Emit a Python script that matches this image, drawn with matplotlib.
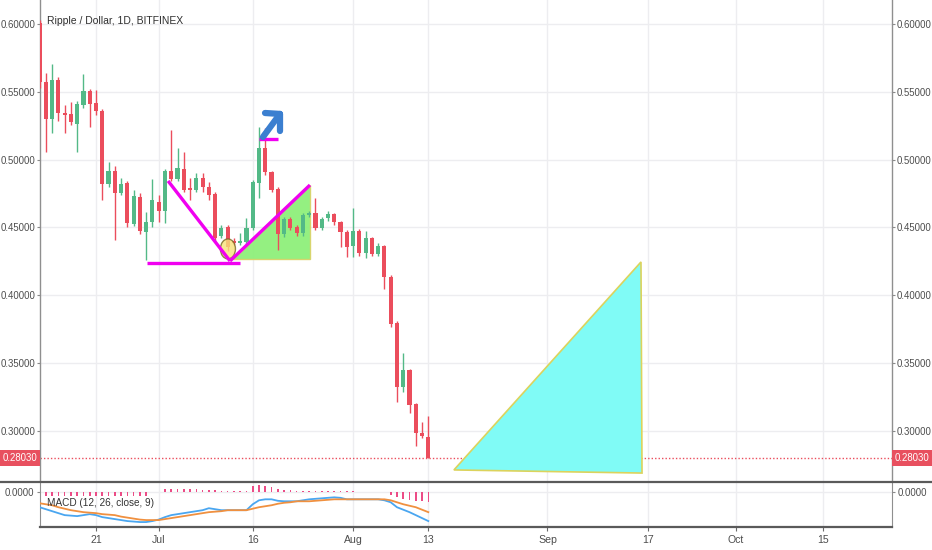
import matplotlib
matplotlib.use('Agg')
import matplotlib.pyplot as plt
import matplotlib.dates as mdates
from matplotlib.patches import Polygon, Ellipse
from matplotlib.lines import Line2D
import numpy as np
import pandas as pd

plt.rcParams['font.family'] = ['Liberation Sans', 'DejaVu Sans']

# ---------------- data ----------------
dates = pd.date_range('2018-06-12', '2018-08-13', freq='D')
opens = [0.601, 0.5575, 0.530, 0.5587, 0.5344, 0.534, 0.5263, 0.540, 0.5506, 0.5417,
         0.5358, 0.482, 0.4916, 0.4754, 0.4828, 0.4526, 0.4725, 0.4467, 0.454, 0.4688,
         0.4621, 0.4916, 0.4857, 0.4931, 0.4791, 0.4776, 0.4865, 0.4798, 0.4747, 0.4437,
         0.4503, 0.440, 0.4386, 0.4393, 0.4496, 0.4828, 0.5086, 0.4909, 0.4783, 0.4452,
         0.4562, 0.4503, 0.4459, 0.4592, 0.4607, 0.4496, 0.457, 0.4599, 0.454, 0.4467,
         0.4363, 0.4474, 0.4312, 0.4422, 0.4304, 0.4363, 0.4135, 0.3796, 0.3324, 0.345,
         0.3199, 0.2985, 0.2956]
highs = [0.603, 0.564, 0.5705, 0.561, 0.540, 0.5425, 0.543, 0.563, 0.552, 0.5513,
         0.537, 0.4982, 0.495, 0.4865, 0.484, 0.4776, 0.4754, 0.4614, 0.486, 0.4739,
         0.493, 0.5218, 0.5086, 0.5056, 0.4865, 0.4901, 0.4901, 0.4835, 0.476, 0.4518,
         0.452, 0.442, 0.446, 0.457, 0.485, 0.524, 0.5233, 0.492, 0.480, 0.458,
         0.458, 0.452, 0.461, 0.462, 0.4717, 0.458, 0.462, 0.461, 0.455, 0.448,
         0.4643, 0.449, 0.4474, 0.443, 0.4386, 0.437, 0.415, 0.381, 0.3575, 0.346,
         0.321, 0.3066, 0.311]
lows = [0.553, 0.506, 0.520, 0.5285, 0.520, 0.5255, 0.5056, 0.538, 0.524, 0.533,
        0.470, 0.480, 0.4408, 0.474, 0.4503, 0.451, 0.445, 0.426, 0.4503, 0.454,
        0.4533, 0.484, 0.484, 0.476, 0.4703, 0.476, 0.4761, 0.4703, 0.4393, 0.442,
        0.433, 0.437, 0.437, 0.438, 0.448, 0.4717, 0.489, 0.476, 0.4334, 0.443,
        0.448, 0.444, 0.444, 0.458, 0.448, 0.448, 0.455, 0.452, 0.4356, 0.4282,
        0.4282, 0.429, 0.4275, 0.429, 0.429, 0.4047, 0.3766, 0.3214, 0.3287, 0.3133,
        0.2889, 0.295, 0.280]
closes = [0.557, 0.530, 0.5587, 0.5344, 0.5329, 0.5277, 0.541, 0.5506, 0.541, 0.5358,
          0.482, 0.4916, 0.4754, 0.482, 0.4533, 0.4732, 0.4474, 0.454, 0.4703, 0.4621,
          0.4916, 0.4857, 0.4938, 0.4776, 0.4776, 0.4865, 0.4798, 0.4739, 0.4422, 0.4496,
          0.4356, 0.4386, 0.440, 0.4496, 0.4835, 0.5086, 0.4909, 0.4776, 0.4452, 0.4562,
          0.4496, 0.4459, 0.4592, 0.4607, 0.4496, 0.4562, 0.4599, 0.454, 0.4467, 0.4356,
          0.4474, 0.4312, 0.4422, 0.4304, 0.4363, 0.4135, 0.3789, 0.3324, 0.345, 0.3192,
          0.2985, 0.2963, 0.2803]
last_price = 0.28030

macd_line = [-0.015, -0.017, -0.019, -0.021, -0.023, -0.0235, -0.024, -0.023, -0.022, -0.023,
             -0.025, -0.026, -0.027, -0.028, -0.029, -0.0295, -0.030, -0.030, -0.029, -0.0275,
             -0.025, -0.023, -0.022, -0.021, -0.020, -0.019, -0.018, -0.016, -0.017, -0.018,
             -0.018, -0.018, -0.018, -0.018, -0.012, -0.008, -0.007, -0.007, -0.0085, -0.009,
             -0.009, -0.009, -0.008, -0.007, -0.0065, -0.006, -0.0055, -0.005, -0.0055, -0.007,
             -0.007, -0.007, -0.007, -0.007, -0.007, -0.008, -0.010, -0.015, -0.0175, -0.020,
             -0.023, -0.026, -0.029]
signal_line = [-0.011, -0.012, -0.013, -0.015, -0.0165, -0.018, -0.019, -0.020, -0.0205, -0.021,
               -0.022, -0.0225, -0.023, -0.0245, -0.0255, -0.0265, -0.0275, -0.028, -0.028, -0.028,
               -0.027, -0.026, -0.025, -0.024, -0.023, -0.022, -0.021, -0.020, -0.0195, -0.019,
               -0.018, -0.018, -0.018, -0.018, -0.0165, -0.015, -0.014, -0.013, -0.0115, -0.0105,
               -0.010, -0.009, -0.009, -0.009, -0.0085, -0.008, -0.0075, -0.007, -0.007, -0.007,
               -0.007, -0.007, -0.007, -0.007, -0.007, -0.007, -0.008, -0.010, -0.012, -0.0135,
               -0.015, -0.0175, -0.020]
histogram = [-0.0033, -0.0033, -0.0033, -0.0033, -0.0033, -0.0033, -0.0033, -0.0033, -0.0033, -0.0033,
             -0.0033, -0.0033, -0.0033, -0.0033, -0.0033, -0.0033, -0.0033, -0.0033, 0.0, 0.0,
             0.003, 0.0033, 0.0033, 0.0033, 0.003, 0.003, 0.0025, 0.0025, 0.002, 0.0015,
             0.001, 0.001, 0.001, 0.0015, 0.0067, 0.0073, 0.0067, 0.0057, 0.0033, 0.0023,
             0.002, 0.0015, 0.0015, 0.0015, 0.0012, 0.0012, 0.0012, 0.001, 0.001, 0.001,
             0.001, 0.0, 0.0, 0.0, 0.0, 0.0, -0.0027, -0.005, -0.007, -0.008,
             -0.009, -0.009, -0.010]

# drawings (date, price)
support_line = [('2018-06-29 02:00', 0.4238), ('2018-07-14 00:00', 0.4238)]
down_line = [('2018-07-02 12:00', 0.4843), ('2018-07-12 09:00', 0.4253)]
up_line = [('2018-07-12 09:00', 0.4253), ('2018-07-25 03:00', 0.4813)]
green_triangle = [('2018-07-12 20:00', 0.4268), ('2018-07-25 03:00', 0.4268), ('2018-07-25 03:00', 0.4813)]
circle_center = ('2018-07-12 01:00', 0.4342)
top_line = [('2018-07-17 00:00', 0.5152), ('2018-07-20 01:00', 0.5152)]
arrow_tail = ('2018-07-17 15:00', 0.5167)
arrow_tip = ('2018-07-20 08:00', 0.5337)
arrow_left = ('2018-07-17 23:00', 0.5344)
arrow_down = ('2018-07-20 08:00', 0.5211)
cyan_triangle = [('2018-08-17 02:00', 0.2713), ('2018-09-16 02:00', 0.2690), ('2018-09-15 22:00', 0.4246)]

price_ticks = [0.30, 0.35, 0.40, 0.45, 0.50, 0.55, 0.60]
date_ticks = ['2018-06-21', '2018-07-01', '2018-07-16', '2018-08-01', '2018-08-13',
              '2018-09-01', '2018-09-17', '2018-10-01', '2018-10-15']
date_labels = ['21', 'Jul', '16', 'Aug', '13', 'Sep', '17', 'Oct', '15']
title = 'Ripple / Dollar, 1D, BITFINEX'
macd_title = 'MACD (12, 26, close, 9)'

# ---------------- styling ----------------
UP = '#53b987'
DOWN = '#eb4d5c'
MAGENTA = '#f000f0'
GRID = '#ededf0'
TICKC = '#4d4d4d'
TFS = 6.9
W, H = 932, 550


def dn(s):
    return mdates.date2num(pd.Timestamp(s))


def pts(lst):
    return [(dn(d), p) for d, p in lst]


fig = plt.figure(figsize=(W / 100, H / 100), dpi=100)
ax = fig.add_axes([40 / W, 1 - 481 / H, 852 / W, 481 / H])
axm = fig.add_axes([40 / W, 1 - 527 / H, 852 / W, 45 / H], sharex=ax)

base = dn('2018-06-21')
ax.set_xlim(base - 8.93, base + 126.95)
ax.set_ylim(0.30 - 50 / 1356.7, 0.30 + 431 / 1356.7)

x = mdates.date2num(dates)
o = np.array(opens); c = np.array(closes); h = np.array(highs); l = np.array(lows)
cols = [UP if ci >= oi else DOWN for oi, ci in zip(o, c)]
ax.vlines(x, l, h, colors=cols, linewidth=1.0, zorder=3)
body_h = np.maximum(np.abs(c - o), 0.0012)
body_b = np.minimum(o, c)
ax.bar(x, body_h, bottom=body_b, width=0.66, color=cols, linewidth=0, zorder=4)

# grid
for t in price_ticks:
    ax.axhline(t, color=GRID, lw=1, zorder=0)
for t in date_ticks:
    ax.axvline(dn(t), color=GRID, lw=1, zorder=0)
    axm.axvline(dn(t), color=GRID, lw=1, zorder=0)
axm.axhline(0, color=GRID, lw=1, zorder=0)

# last price line
ax.axhline(last_price, color=DOWN, lw=1, ls=(0, (1, 1.5)), zorder=2)

# drawings
gt = Polygon(pts(green_triangle), closed=True, fc='#8ef07a', ec='#d9d46a', lw=1, alpha=0.95, zorder=2)
ax.add_patch(gt)
ct = Polygon(pts(cyan_triangle), closed=True, fc='#80fbf6', ec='#dcd35c', lw=1.2, zorder=2)
ax.add_patch(ct)
for seg in (support_line, down_line, up_line, top_line):
    p = pts(seg)
    ax.plot([p[0][0], p[1][0]], [p[0][1], p[1][1]], color=MAGENTA, lw=2.4,
            solid_capstyle='butt', zorder=6)
ell = Ellipse((dn(circle_center[0]), circle_center[1]), 2.4, 0.0147,
              fc='#f8e27a', ec='#7a6a25', lw=1, alpha=0.8, zorder=5)
ax.add_patch(ell)
tip = (dn(arrow_tip[0]), arrow_tip[1])
for end in (arrow_tail, arrow_left, arrow_down):
    e = (dn(end[0]), end[1])
    ax.plot([e[0], tip[0]], [e[1], tip[1]], color='#3b7fd0', lw=4.5,
            solid_capstyle='round', zorder=7)

# axes styling main
ax.set_yticks(price_ticks)
ax.set_yticklabels(['%.5f' % t for t in price_ticks])
ax.tick_params(axis='y', which='both', left=True, right=True, labelleft=True, labelright=True,
               length=2.5, width=0.8, color='#8a8a8a', labelsize=TFS, labelcolor=TICKC, pad=1.0)
ax.tick_params(axis='x', bottom=False, labelbottom=False)
for s in ('top', 'bottom'):
    ax.spines[s].set_visible(False)
for s in ('left', 'right'):
    ax.spines[s].set_color('#8f8f8f')
    ax.spines[s].set_linewidth(1)

# price labels
for xa, ha in ((-0.0035, 'right'), (1.0035, 'left')):
    ax.text(xa, last_price, '%.5f' % last_price, transform=ax.get_yaxis_transform(),
            ha=ha, va='center', fontsize=TFS, color='white', zorder=10, clip_on=False,
            bbox=dict(boxstyle='square,pad=0.3', fc='#e8505f', ec='none'))

# MACD panel
axm.bar(x, histogram, width=0.26, color='#ec4c86', linewidth=0, zorder=2)
axm.plot(x, macd_line, color='#4aa6f0', lw=1.3, zorder=3)
axm.plot(x, signal_line, color='#f0903f', lw=1.3, zorder=3)
axm.set_ylim(-0.035, 0.0105)
axm.set_yticks([0])
axm.set_yticklabels(['0.0000'])
axm.tick_params(axis='y', left=True, right=True, labelleft=True, labelright=True,
                length=2.5, width=0.8, color='#8a8a8a', labelsize=TFS, labelcolor=TICKC, pad=1.5)
axm.set_xticks([dn(t) for t in date_ticks])
axm.set_xticklabels(date_labels)
axm.tick_params(axis='x', length=3, width=0.8, color='#6a6a6a', labelsize=7.6, labelcolor=TICKC, pad=3)
axm.spines['top'].set_visible(False)
for s in ('left', 'right'):
    axm.spines[s].set_color('#8f8f8f')
axm.spines['bottom'].set_color('#5a5a5a')
axm.spines['bottom'].set_linewidth(1.6)

# separator across figure
fig.add_artist(Line2D([0, 1], [1 - 481.5 / H, 1 - 481.5 / H], transform=fig.transFigure,
                      color='#5a5a5a', lw=1.6))

fig.text(47 / W, 1 - 21 / H, title, ha='left', va='center', fontsize=7.5, color='#2f2f2f')
fig.text(47 / W, 1 - 503 / H, macd_title, ha='left', va='center', fontsize=7.2, color='#333333')

fig.savefig('out.png', dpi=100)
